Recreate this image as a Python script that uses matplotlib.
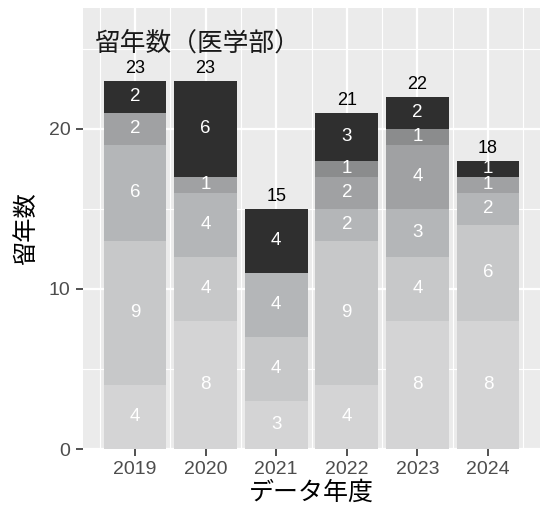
import numpy as np
import matplotlib
matplotlib.use("Agg")
import matplotlib.pyplot as plt
from matplotlib.ticker import MultipleLocator

plt.rcParams["font.family"] = ["Liberation Sans", "Noto Sans CJK JP", "DejaVu Sans"]

# ---------------------------------------------------------------------------
# Data (stack layers from bottom to top)
# ---------------------------------------------------------------------------
years = [2019, 2020, 2021, 2022, 2023, 2024]
layer1 = [4, 8, 3, 4, 8, 8]
layer2 = [9, 4, 4, 9, 4, 6]
layer3 = [6, 4, 4, 2, 3, 2]
layer4 = [2, 1, 0, 2, 4, 1]
layer5 = [0, 0, 0, 1, 1, 0]
layer6 = [2, 6, 4, 3, 2, 1]

layers = [layer1, layer2, layer3, layer4, layer5, layer6]
colors = ["#d4d4d5", "#c7c8c9", "#b4b6b8", "#a0a1a3", "#8b8c8d", "#2f2f2f"]

title = "留年数（医学部）"
xlabel = "データ年度"
ylabel = "留年数"

# ---------------------------------------------------------------------------
# Figure
# ---------------------------------------------------------------------------
fig = plt.figure(figsize=(5.4, 5.08), dpi=100)
ax = fig.add_axes([83 / 540, 1 - 449 / 508, 1 - 83 / 540, 441 / 508])
ax.set_facecolor("#ebebeb")

x = np.array(years)
bottom = np.zeros(len(years))
for vals, col in zip(layers, colors):
    vals = np.array(vals)
    ax.bar(x, vals, width=0.89, bottom=bottom, color=col, linewidth=0, zorder=3)
    for xi, b, v in zip(x, bottom, vals):
        if v > 0:
            ax.text(xi, b + v / 2, str(v), ha="center", va="center",
                    color="white", fontsize=13.5, zorder=4)
    bottom += vals

for xi, tot in zip(x, bottom):
    ax.text(xi, tot + 0.8, str(int(tot)), ha="center", va="center",
            color="black", fontsize=13, zorder=4)

ax.text(2018.43, 25.35, title, ha="left", va="center", fontsize=18.5,
        color="#1a1a1a", zorder=4)

ax.set_xlim(2018.263, 2024.737)
ax.set_ylim(0, 27.56)
ax.set_xticks(years)
ax.xaxis.set_minor_locator(MultipleLocator(0.5))
ax.yaxis.set_major_locator(MultipleLocator(10))
ax.yaxis.set_minor_locator(MultipleLocator(5))

ax.grid(which="major", color="white", linewidth=1.6, zorder=1)
ax.grid(which="minor", color="white", linewidth=0.8, zorder=1)
ax.set_axisbelow(True)
for s in ax.spines.values():
    s.set_visible(False)

ax.tick_params(axis="both", which="major", length=5, width=1.2,
               color="#333333", labelcolor="#4d4d4d", labelsize=14, pad=4)
ax.tick_params(axis="both", which="minor", length=0)

ax.set_xlabel(xlabel, fontsize=18, color="black", labelpad=2)
ax.set_ylabel(ylabel, fontsize=17.5, color="black", labelpad=8)

fig.savefig("out.png", dpi=100)
